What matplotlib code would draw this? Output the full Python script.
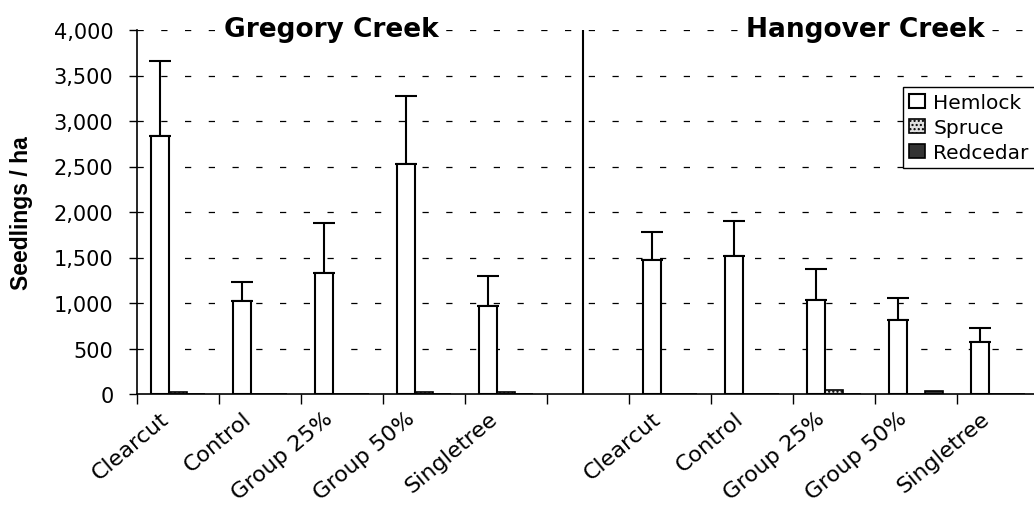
import numpy as np
import matplotlib.pyplot as plt
from matplotlib.ticker import FuncFormatter
from matplotlib.transforms import ScaledTranslation

# values
sites = ["Gregory Creek", "Hangover Creek"]
treatments = ["Clearcut", "Control", "Group 25%", "Group 50%", "Singletree"]
hemlock = [2840, 1020, 1330, 2530, 970, 1470, 1520, 1035, 810, 575]
hemlock_err = [820, 210, 550, 750, 330, 310, 380, 335, 240, 150]
spruce = [20, 0, 0, 20, 20, 0, 0, 40, 0, 0]
redcedar = [0, 0, 0, 0, 0, 0, 0, 0, 35, 0]
series = ["Hemlock", "Spruce", "Redcedar"]

# one empty slot between the two sites
slots = np.array([0, 1, 2, 3, 4, 6, 7, 8, 9, 10])
centers = slots + 0.5
w = 0.22

fig = plt.figure(figsize=(10.34, 5.10), dpi=100)
ax = fig.add_axes([137 / 1034, 1 - 395 / 510, (1039 - 137) / 1034, (395 - 31) / 510])

# dashed gridlines behind bars
for yv in range(500, 4001, 500):
    ax.axhline(yv, color="black", lw=0.9, ls=(0, (5, 14)), zorder=0)

ax.bar(centers - w, hemlock, w, color="white", edgecolor="black", lw=1.5,
       label=series[0], zorder=2)
ax.errorbar(centers - w, hemlock, yerr=[np.zeros(len(hemlock)), hemlock_err],
            fmt="none", ecolor="black", elinewidth=1.5, capsize=8, capthick=1.5, zorder=1)
ax.bar(centers, spruce, w, color="#e0e0e0", edgecolor="black", lw=1.2, hatch="....",
       label=series[1], zorder=2)
ax.bar(centers + w, redcedar, w, color="#333333", edgecolor="black", lw=1.2,
       label=series[2], zorder=2)

# divider between sites
ax.axvline(5.44, color="black", lw=1.5, zorder=3)

ax.set_xlim(0, 11)
ax.set_ylim(0, 4000)
ax.set_yticks(range(0, 4001, 500))
ax.yaxis.set_major_formatter(FuncFormatter(lambda v, p: f"{v:,.0f}"))
ax.tick_params(axis="y", labelsize=15, length=6, width=1, pad=11)

ax.set_xticks(range(0, 12))
ax.set_xticklabels([])
ax.tick_params(axis="x", which="major", length=7, width=1)
ax.set_xticks(centers, minor=True)
ax.set_xticklabels(treatments * 2, minor=True, rotation=40, ha="right",
                   rotation_mode="anchor", fontsize=16)
ax.tick_params(axis="x", which="minor", length=0, pad=10)
shift = ScaledTranslation(-18 / 100, 0, fig.dpi_scale_trans)
for lab in ax.get_xticklabels(minor=True):
    lab.set_transform(lab.get_transform() + shift)

for s in ["top", "right"]:
    ax.spines[s].set_visible(False)
ax.spines["left"].set_linewidth(1.2)
ax.spines["bottom"].set_linewidth(1.2)

ax.set_ylabel("Seedlings / ha", fontsize=16.5, fontweight="bold",
              family=["Liberation Sans", "DejaVu Sans"])
ax.yaxis.set_label_coords((33 - 137) / 902, 0.5)

for x, name in zip([2.37, 8.88], sites):
    ax.text(x, 4015, name, ha="center", va="center", fontsize=19, fontweight="bold",
            bbox=dict(facecolor="white", edgecolor="none", pad=1), zorder=4, clip_on=False)

leg = ax.legend(loc="upper left", bbox_to_anchor=(903 / 1034, 1 - 88 / 510),
                bbox_transform=fig.transFigure, fontsize=14.5, frameon=True, fancybox=False,
                framealpha=1, edgecolor="black", borderpad=0.3, labelspacing=0.3,
                handlelength=0.8, handleheight=0.7, handletextpad=0.4, borderaxespad=0)
leg.get_frame().set_linewidth(1.0)

fig.savefig("out.png", dpi=100)
